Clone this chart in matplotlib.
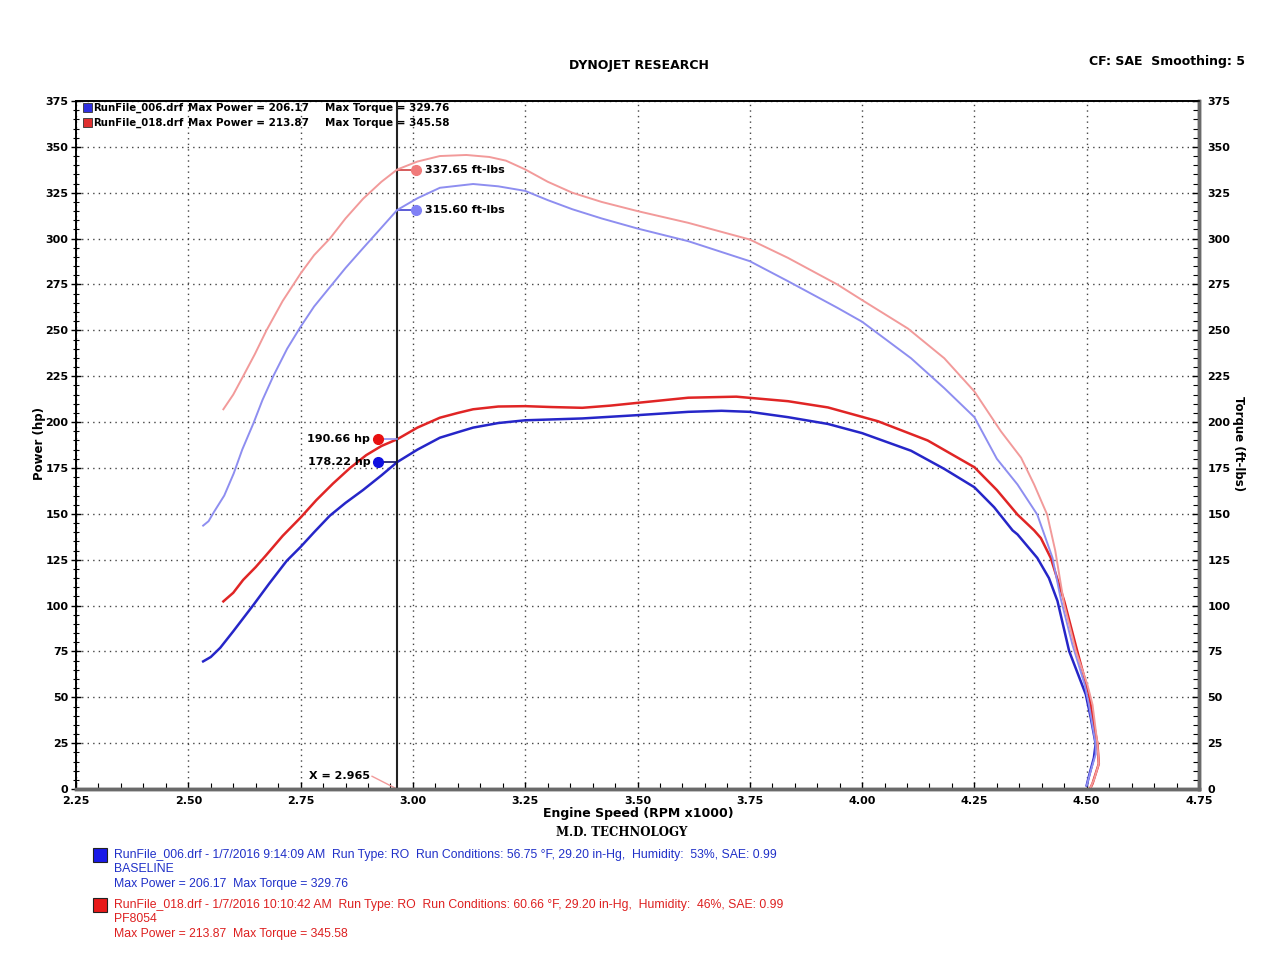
import matplotlib
matplotlib.use("Agg")
import matplotlib.pyplot as plt
from matplotlib.patches import Rectangle
import numpy as np

# run 006 (BASELINE) - power
rpm_hp_006 = [2.533, 2.55, 2.571, 2.60, 2.645, 2.68, 2.719, 2.75, 2.78, 2.815, 2.85, 2.889, 2.93, 2.965,
              3.01, 3.06, 3.10, 3.134, 3.19, 3.25, 3.377, 3.50, 3.613, 3.687, 3.75, 3.835, 3.924, 4.0,
              4.109, 4.183, 4.25, 4.294, 4.335, 4.346, 4.39, 4.416, 4.435, 4.461, 4.498, 4.509, 4.52,
              4.516, 4.505, 4.50]
hp_006 = [69.6, 72, 77, 86, 100.4, 112, 124.4, 132, 140, 149, 156, 163, 171, 178.22,
          185, 191.5, 194.5, 197, 199.5, 201, 202, 203.8, 205.6, 206.17, 205.6, 202.7, 199, 194,
          184.4, 174.5, 164.5, 153.6, 141, 138.8, 126, 115, 102.5, 75.2, 51.6, 39, 24.6,
          17, 7, 2]

# run 018 (PF8054) - power
rpm_hp_018 = [2.578, 2.60, 2.622, 2.65, 2.674, 2.71, 2.75, 2.785, 2.822, 2.86, 2.896, 2.93, 2.965,
              3.01, 3.06, 3.10, 3.134, 3.19, 3.25, 3.31, 3.377, 3.44, 3.50, 3.613, 3.72, 3.835, 3.924,
              4.035, 4.146, 4.25, 4.30, 4.346, 4.383, 4.398, 4.42, 4.45, 4.479, 4.505, 4.516, 4.524,
              4.527, 4.513, 4.507]
hp_018 = [102.3, 107, 114, 121, 127.7, 138, 148, 157.5, 166.5, 175, 182, 187, 190.66,
          197, 202.4, 205, 207, 208.5, 208.7, 208.2, 207.8, 209, 210.5, 213.3, 213.87, 211.4, 208,
          200.5, 190, 175.4, 163, 149.6, 141, 136.8, 126, 102.5, 75.2, 51.6, 35.3, 24.6,
          13.8, 3, 0]

# run 006 - torque
rpm_tq_006 = [2.533, 2.545, 2.557, 2.58, 2.601, 2.62, 2.645, 2.665, 2.689, 2.72, 2.75, 2.78, 2.815,
              2.85, 2.889, 2.93, 2.965, 3.01, 3.06, 3.134, 3.19, 3.25, 3.30, 3.355, 3.42, 3.50, 3.613,
              3.75, 3.835, 3.945, 4.0, 4.109, 4.183, 4.25, 4.30, 4.346, 4.39, 4.424, 4.442, 4.468,
              4.4955, 4.505, 4.52, 4.52, 4.509, 4.50]
tq_006 = [143.6, 146, 151, 160, 172, 185, 199.4, 212, 225, 240, 252, 263, 273.5,
          284, 294.8, 306, 315.6, 322, 327.7, 329.76, 328.5, 326, 321, 316, 311, 305.5, 298.6,
          287.7, 276.8, 262.3, 254.7, 234.8, 218.5, 202.7, 180, 166, 149.6, 126, 104, 79,
          57, 46, 24.6, 19, 10, 2]

# run 018 - torque
rpm_tq_018 = [2.578, 2.60, 2.622, 2.648, 2.674, 2.71, 2.75, 2.78, 2.815, 2.85, 2.889, 2.93, 2.965,
              3.01, 3.06, 3.119, 3.17, 3.207, 3.25, 3.30, 3.355, 3.42, 3.50, 3.613, 3.75, 3.835,
              3.945, 4.0, 4.102, 4.183, 4.25, 4.309, 4.354, 4.383, 4.412, 4.43, 4.45, 4.476, 4.5015,
              4.513, 4.524, 4.527, 4.516, 4.509]
tq_018 = [207, 215, 225, 237, 250, 266, 281, 291, 300, 311, 321.7, 331, 337.65,
          342, 345, 345.58, 344.5, 342.5, 337.7, 331, 325, 320, 315, 308.6, 299.5, 289.5,
          275, 266.5, 251, 234.8, 216.7, 195, 180.6, 166, 149.6, 130, 100.5, 75.2, 57,
          46, 24.6, 13.8, 5, 1]

cursor_x = 2.965
x_ticks = [2.25, 2.50, 2.75, 3.00, 3.25, 3.50, 3.75, 4.00, 4.25, 4.50, 4.75]
y_ticks = [0, 25, 50, 75, 100, 125, 150, 175, 200, 225, 250, 275, 300, 325, 350, 375]

c_hp6 = "#2626c8"
c_hp18 = "#e02525"
c_tq6 = "#8e8ef0"
c_tq18 = "#f29a9a"
c_txt6 = "#2030c8"
c_txt18 = "#dd2020"


def create_graph():
	fig = plt.figure(figsize=(12.8, 9.6), dpi=100)
	ax = fig.add_axes([0.0594, 0.178, 0.8773, 0.7168])
	ax2 = ax.twinx()

	for a in (ax, ax2):
		a.set_xlim(2.25, 4.75)
		a.set_ylim(0, 375)
		a.set_yticks(y_ticks)
		a.set_yticklabels([str(v) for v in y_ticks], fontsize=8, fontweight="bold")
		a.yaxis.set_minor_locator(matplotlib.ticker.MultipleLocator(5))
		a.spines["left"].set_linewidth(1.2)
		a.spines["top"].set_linewidth(1.2)
		a.spines["bottom"].set_linewidth(2.5)
		a.spines["bottom"].set_color("#6a6a6a")
		a.spines["right"].set_linewidth(2.5)
		a.spines["right"].set_color("#6a6a6a")
	ax.tick_params(axis="y", which="major", direction="inout", length=7, width=1, pad=2)
	ax.tick_params(axis="y", which="minor", direction="inout", length=5, width=0.8)
	ax2.tick_params(axis="y", which="major", direction="in", length=5, width=1, pad=6)
	ax2.tick_params(axis="y", which="minor", direction="in", length=4, width=0.8)
	ax.set_xticks(x_ticks)
	ax.set_xticklabels(["%.2f" % v for v in x_ticks], fontsize=8, fontweight="bold")
	ax.xaxis.set_minor_locator(matplotlib.ticker.MultipleLocator(0.05))
	ax.tick_params(axis="x", which="major", direction="in", length=5, width=1, pad=5)
	ax.tick_params(axis="x", which="minor", direction="in", length=4, width=0.8)

	ax.grid(True, which="major", linestyle=(0, (1, 3)), color="#444444", linewidth=1)

	# torque on the right axis, power on the left
	ax2.plot(rpm_tq_006, tq_006, color=c_tq6, lw=1.4)
	ax2.plot(rpm_tq_018, tq_018, color=c_tq18, lw=1.4)
	ax.plot(rpm_hp_006, hp_006, color=c_hp6, lw=1.8, zorder=3)
	ax.plot(rpm_hp_018, hp_018, color=c_hp18, lw=1.8, zorder=3)

	# cursor
	ax.plot([cursor_x, cursor_x], [0, 375], color="#222222", lw=1.5, zorder=4)
	ax.plot([2.909, cursor_x], [7, 0], color=c_tq18, lw=1)
	ax.text(2.905, 7, "X = 2.965", fontsize=8, fontweight="bold", ha="right", va="center")

	# cursor readouts
	ax.plot([2.922, cursor_x], [hp_018[12], hp_018[12]], color=c_tq6, lw=1.2, zorder=4)
	ax.plot([2.922, cursor_x], [hp_006[13], hp_006[13]], color="#111166", lw=1.2, zorder=4)
	ax.plot([2.922], [hp_018[12]], "o", color="#e81010", ms=7, zorder=5)
	ax.plot([2.922], [hp_006[13]], "o", color="#1010e0", ms=7, zorder=5)
	ax.text(2.905, hp_018[12], "%.2f hp" % hp_018[12], fontsize=8, fontweight="bold", ha="right", va="center")
	ax.text(2.905, hp_006[13], "%.2f hp" % hp_006[13], fontsize=8, fontweight="bold", ha="right", va="center")
	ax.plot([cursor_x, 3.007], [tq_018[12], tq_018[12]], color="#d04040", lw=1.2, zorder=4)
	ax.plot([cursor_x, 3.007], [tq_006[16], tq_006[16]], color="#4040d0", lw=1.2, zorder=4)
	ax.plot([3.007], [tq_018[12]], "o", color="#f07a7a", ms=7, zorder=5)
	ax.plot([3.007], [tq_006[16]], "o", color="#8080f5", ms=7, zorder=5)
	ax.text(3.027, tq_018[12], "%.2f ft-lbs" % tq_018[12], fontsize=8, fontweight="bold", ha="left", va="center")
	ax.text(3.027, tq_006[16], "%.2f ft-lbs" % tq_006[16], fontsize=8, fontweight="bold", ha="left", va="center")

	# top-left legend
	for i, (name, mp, mt, col) in enumerate([("RunFile_006.drf", 206.17, 329.76, "#3030e0"),
	                                          ("RunFile_018.drf", 213.87, 345.58, "#e03030")]):
		yy = 1 - (108 + 15 * i) / 960
		fig.patches.append(Rectangle((83 / 1280, yy - 0.0045), 9 / 1280, 9 / 960, transform=fig.transFigure,
		                             facecolor=col, edgecolor="#333333", lw=0.6))
		fig.text(93 / 1280, yy, name, fontsize=7.3, fontweight="bold", va="center")
		fig.text(188 / 1280, yy, "Max Power = %.2f" % mp, fontsize=7.5, fontweight="bold", va="center")
		fig.text(325 / 1280, yy, "Max Torque = %.2f" % mt, fontsize=7.5, fontweight="bold", va="center")

	# titles and labels
	fig.text(639 / 1280, 1 - 65 / 960, "DYNOJET RESEARCH", fontsize=9, fontweight="bold", ha="center", va="center")
	fig.text(1245 / 1280, 1 - 61 / 960, "CF: SAE  Smoothing: 5", fontsize=9, fontweight="bold", ha="right", va="center")
	fig.text(40 / 1280, 1 - 444 / 960, "Power (hp)", fontsize=8.5, fontweight="bold", rotation=90, ha="center", va="center")
	fig.text(1238 / 1280, 1 - 444 / 960, "Torque (ft-lbs)", fontsize=8.5, fontweight="bold", rotation=270, ha="center", va="center")
	fig.text(638 / 1280, 1 - 814 / 960, "Engine Speed (RPM x1000)", fontsize=9, fontweight="bold", ha="center", va="center")
	fig.text(622 / 1280, 1 - 832 / 960, "M.D. TECHNOLOGY", fontsize=8.5, fontweight="bold", family="DejaVu Serif",
	         ha="center", va="center")

	# bottom run details
	runs = [("RunFile_006.drf - 1/7/2016 9:14:09 AM  Run Type: RO  Run Conditions: 56.75 \u00b0F, 29.20 in-Hg,  Humidity:  53%, SAE: 0.99",
	         "BASELINE", "Max Power = 206.17  Max Torque = 329.76", c_txt6, "#1a1ae8", 855),
	        ("RunFile_018.drf - 1/7/2016 10:10:42 AM  Run Type: RO  Run Conditions: 60.66 \u00b0F, 29.20 in-Hg,  Humidity:  46%, SAE: 0.99",
	         "PF8054", "Max Power = 213.87  Max Torque = 345.58", c_txt18, "#e81a1a", 905)]
	for line1, line2, line3, col, box, y0 in runs:
		fig.patches.append(Rectangle((93 / 1280, 1 - (y0 + 7) / 960), 14 / 1280, 14 / 960, transform=fig.transFigure,
		                             facecolor=box, edgecolor="#222222", lw=0.8))
		for k, t in enumerate([line1, line2, line3]):
			fig.text(114 / 1280, 1 - (y0 + 14.5 * k) / 960, t, fontsize=8.85, color=col,
			         family="Liberation Sans", va="center")

	plt.savefig("out.png", dpi=100, facecolor="white")


if __name__ == '__main__':
	create_graph()
